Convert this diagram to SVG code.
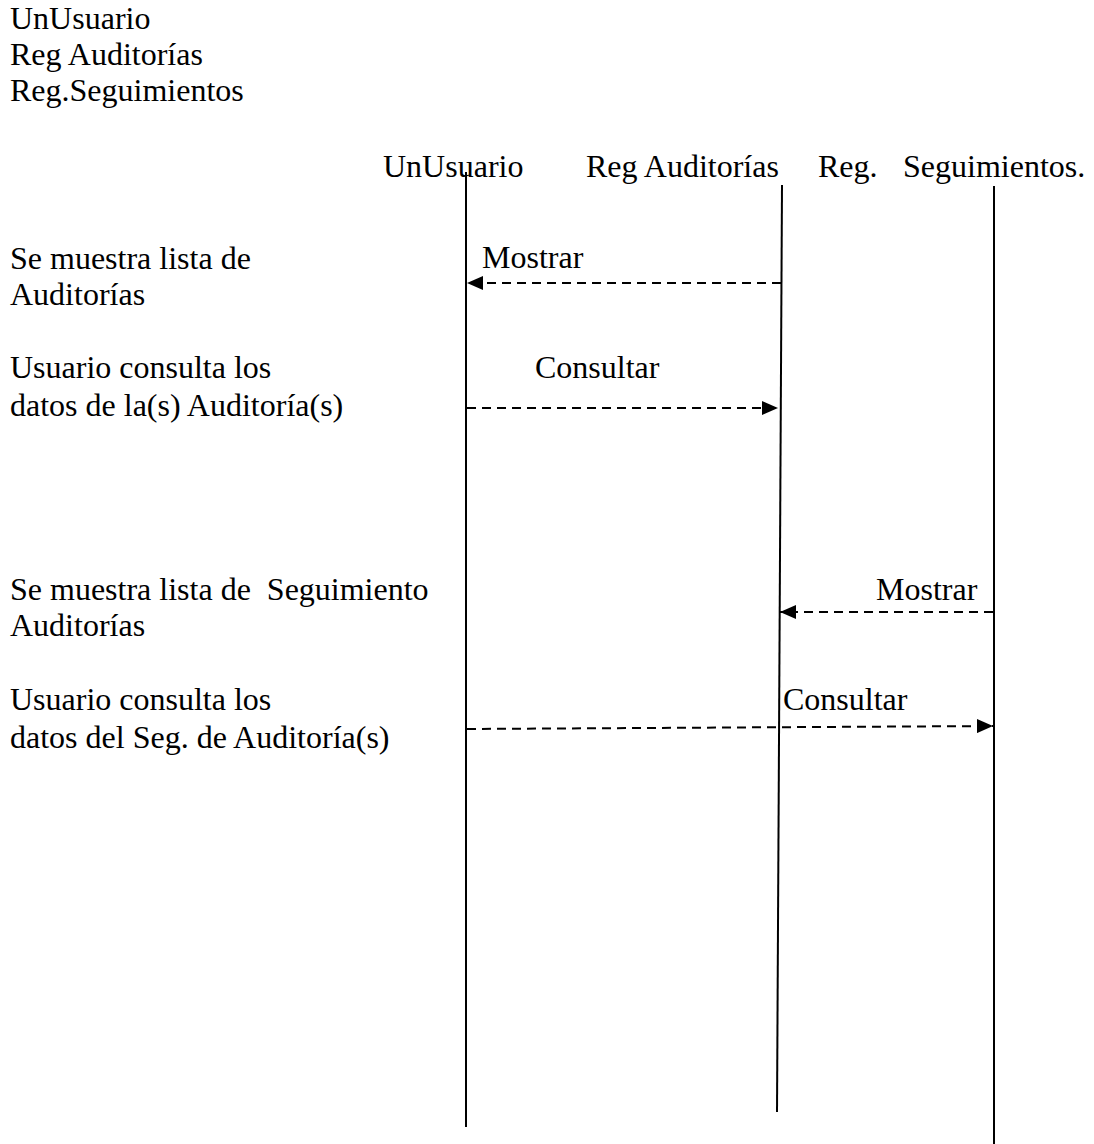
<svg xmlns="http://www.w3.org/2000/svg" width="1094" height="1144" viewBox="0 0 1094 1144">
  <style>
    text { font-family: "Liberation Serif", "Times New Roman", serif; font-size: 32px; fill: #000; }
    .life { stroke: #000; stroke-width: 2; fill: none; }
    .msg { stroke: #000; stroke-width: 2; stroke-dasharray: 9 6; fill: none; }
  </style>
  <defs>
    <marker id="head" viewBox="0 0 16 14" refX="16" refY="7" markerWidth="16" markerHeight="14" markerUnits="userSpaceOnUse" orient="auto">
      <path d="M0,0 L16,7 L0,14 Z" fill="#000"/>
    </marker>
  </defs>

  <rect width="1094" height="1144" fill="#fff"/>

  <!-- participant list -->
  <g id="legend">
    <text x="10" y="29">UnUsuario</text>
    <text x="10" y="65">Reg Auditorías</text>
    <text x="10" y="101">Reg.Seguimientos</text>
  </g>

  <!-- step descriptions -->
  <g id="steps">
    <text x="10" y="269">Se muestra lista de</text>
    <text x="10" y="305">Auditorías</text>
    <text x="10" y="378">Usuario consulta los</text>
    <text x="10" y="416">datos de la(s) Auditoría(s)</text>
    <text x="10" y="600" xml:space="preserve">Se muestra lista de  Seguimiento</text>
    <text x="10" y="636">Auditorías</text>
    <text x="10" y="710">Usuario consulta los</text>
    <text x="10" y="748">datos del Seg. de Auditoría(s)</text>
  </g>

  <!-- lifelines -->
  <g id="unusuario">
    <text x="383" y="177">UnUsuario</text>
    <line class="life" x1="466" y1="172" x2="466" y2="1127"/>
  </g>
  <g id="reg-auditorias">
    <text x="586" y="177">Reg Auditorías</text>
    <line class="life" x1="782" y1="185" x2="777" y2="1112"/>
  </g>
  <g id="reg-seguimientos">
    <text x="818" y="177">Reg.</text>
    <text x="903" y="177">Seguimientos.</text>
    <line class="life" x1="994" y1="186" x2="994" y2="1144"/>
  </g>

  <!-- messages -->
  <g id="connectors">
    <line class="msg" x1="781" y1="283" x2="467" y2="283" marker-end="url(#head)"/>
    <text x="482" y="268">Mostrar</text>

    <line class="msg" x1="467" y1="408" x2="778" y2="408" marker-end="url(#head)"/>
    <text x="535" y="378">Consultar</text>

    <line class="msg" x1="993" y1="612" x2="780" y2="612" marker-end="url(#head)"/>
    <text x="876" y="600">Mostrar</text>

    <line class="msg" x1="467" y1="729" x2="993" y2="726" marker-end="url(#head)"/>
    <text x="783" y="710">Consultar</text>
  </g>
</svg>
